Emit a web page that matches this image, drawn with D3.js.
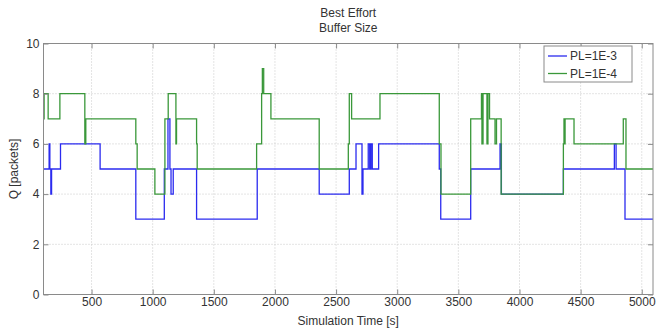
<!DOCTYPE html>
<html>
<head>
<meta charset="utf-8">
<script src="https://cdn.jsdelivr.net/npm/d3@7"></script>
<style>
  body { margin: 0; background: #fff; }
  text { font-family: "Liberation Sans", Arial, sans-serif; fill: #333; }
</style>
</head>
<body>
<script>
// tick labels
var xTicks = [500, 1000, 1500, 2000, 2500, 3000, 3500, 4000, 4500, 5000];
var yTicks = [0, 2, 4, 6, 8, 10];
var seriesNames = ["PL=1E-3", "PL=1E-4"];

// PL=1E-3 (blue): time where each step starts, and queue value
var blueT = [107, 153, 159, 167, 173, 246, 570, 862, 1095, 1125, 1141, 1150, 1168, 1359, 1855,
  2362, 2608, 2663, 2712, 2720, 2763, 2775, 2785, 2796, 2848, 3344, 3356, 3601, 3841, 3852,
  4359, 4776, 4790, 4863];
var blueQ = [5, 6, 5, 4, 5, 6, 5, 3, 5, 7, 5, 4, 5, 3, 5,
  4, 5, 6, 4, 5, 6, 5, 6, 5, 6, 5, 3, 5, 6, 4,
  5, 6, 5, 3];

// PL=1E-4 (green)
var greenT = [107, 112, 145, 241, 445, 453, 862, 873, 1018, 1100, 1127, 1190, 1195, 1359, 1364,
  1850, 1891, 1897, 1908, 1967, 2362, 2600, 2608, 2627, 2859, 3344, 3358, 3601, 3689, 3693,
  3702, 3734, 3742, 3755, 3800, 3812, 3850, 4359, 4364, 4368, 4373, 4446, 4849, 4871];
var greenQ = [7, 8, 7, 8, 6, 7, 6, 5, 4, 7, 8, 6, 7, 6, 5,
  6, 8, 9, 8, 7, 5, 6, 8, 7, 8, 6, 4, 7, 8, 6,
  8, 6, 8, 7, 6, 7, 4, 6, 7, 6, 7, 6, 7, 5];

var tStart = 107, tEnd = 5092;

var margin = {left: 43.5, right: 3, top: 43.5, bottom: 34.5};
var width = 656 - margin.left - margin.right;
var height = 329 - margin.top - margin.bottom;

var svg = d3.select("body")
  .append("svg")
  .attr("width", 656)
  .attr("height", 329);

var g = svg.append("g")
  .attr("transform", "translate(" + margin.left + "," + margin.top + ")");

var x = d3.scaleLinear().domain([tStart, tEnd]).range([0, width]);
var y = d3.scaleLinear().domain([0, 10]).range([height, 0]);

// grid
g.selectAll(".xgrid").data(xTicks).enter().append("line")
  .attr("x1", function(d) { return x(d); }).attr("x2", function(d) { return x(d); })
  .attr("y1", 0).attr("y2", height)
  .attr("stroke", "#c8c8c8").attr("stroke-dasharray", "1,2");
g.selectAll(".ygrid").data(yTicks.slice(1, -1)).enter().append("line")
  .attr("x1", 0).attr("x2", width)
  .attr("y1", function(d) { return y(d); }).attr("y2", function(d) { return y(d); })
  .attr("stroke", "#c8c8c8").attr("stroke-dasharray", "1,2");

function toPoints(ts, qs) {
  var pts = ts.map(function(t, i) { return [t, qs[i]]; });
  pts.push([tEnd, qs[qs.length - 1]]);
  return pts;
}

var line = d3.line()
  .x(function(d) { return x(d[0]); })
  .y(function(d) { return y(d[1]); })
  .curve(d3.curveStepAfter);

var colors = ["#2b2bef", "#3a983a"];

g.append("path").datum(toPoints(blueT, blueQ))
  .attr("d", line).attr("fill", "none")
  .attr("stroke", colors[0]).attr("stroke-width", 1.3);
g.append("path").datum(toPoints(greenT, greenQ))
  .attr("d", line).attr("fill", "none")
  .attr("stroke", colors[1]).attr("stroke-width", 1.3);

// axes: ticks inside, box on
var axisColor = "#8a8a8a";
var xb = g.append("g").attr("transform", "translate(0," + height + ")")
  .call(d3.axisBottom(x).tickValues(xTicks).tickFormat(d3.format("d"))
    .tickSizeInner(-5).tickSizeOuter(0).tickPadding(3));
var xt = g.append("g")
  .call(d3.axisTop(x).tickValues(xTicks).tickSizeInner(-5).tickSizeOuter(0).tickFormat(""));
var yl = g.append("g")
  .call(d3.axisLeft(y).tickValues(yTicks).tickSizeInner(-5).tickSizeOuter(0).tickPadding(3));
var yr = g.append("g").attr("transform", "translate(" + width + ",0)")
  .call(d3.axisRight(y).tickValues(yTicks).tickSizeInner(-5).tickSizeOuter(0).tickFormat(""));

[xb, xt, yl, yr].forEach(function(a) {
  a.select(".domain").remove();
  a.selectAll("line").attr("stroke", axisColor);
  a.selectAll("text").attr("font-size", "12px").attr("fill", "#333")
    .style("font-family", "'Liberation Sans', Arial, sans-serif");
});
xb.selectAll("text").attr("y", 3);
yl.selectAll("text").attr("x", -4);

g.append("rect")
  .attr("x", 0).attr("y", 0).attr("width", width).attr("height", height)
  .attr("fill", "none").attr("stroke", axisColor).attr("stroke-width", 1);

// titles
g.append("text").attr("x", width / 2).attr("y", -27)
  .attr("text-anchor", "middle").attr("font-size", "12px").text("Best Effort");
g.append("text").attr("x", width / 2).attr("y", -12)
  .attr("text-anchor", "middle").attr("font-size", "12px").text("Buffer Size");

g.append("text").attr("x", width / 2).attr("y", height + 30)
  .attr("text-anchor", "middle").attr("font-size", "12px").text("Simulation Time [s]");
g.append("text")
  .attr("transform", "rotate(-90)")
  .attr("x", -height / 2).attr("y", -26)
  .attr("text-anchor", "middle").attr("font-size", "12px").text("Q [packets]");

// legend
var lg = g.append("g").attr("transform", "translate(" + (544 - margin.left) + "," + (46 - margin.top) + ")");
lg.append("rect").attr("x", 0).attr("y", 0).attr("width", 88).attr("height", 36)
  .attr("fill", "#fff").attr("stroke", axisColor);
seriesNames.forEach(function(name, i) {
  var yy = 10 + i * 17.5;
  lg.append("line").attr("x1", 4).attr("x2", 23).attr("y1", yy).attr("y2", yy)
    .attr("stroke", colors[i]).attr("stroke-width", 1.3);
  lg.append("text").attr("x", 26).attr("y", yy + 4).attr("font-size", "12px").text(name);
});
</script>
</body>
</html>
